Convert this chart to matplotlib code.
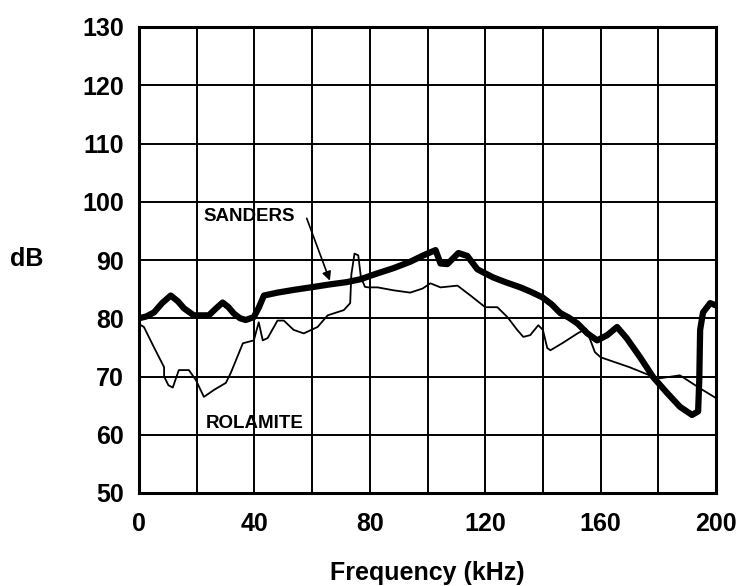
import matplotlib.pyplot as plt

# frequency (kHz) / level (dB)
sanders_f = [0, 2.5, 5.2, 8, 11, 13.5, 15.6, 19, 24.2, 26.5, 29, 31, 32.9, 35, 37, 39.8, 41.5,
             43.3, 48, 54, 59.5, 66, 72, 76.8, 82, 88.2, 94, 98.6, 102.8, 104.5, 106.9, 110.7,
             113.8, 117.3, 122.8, 127, 132.2, 136, 139.8, 143, 146, 149, 152, 155.4, 158.8,
             162.3, 165.7, 169, 173.7, 178.2, 183, 187.5, 191.7, 193.8, 194.2, 194.5, 195.5,
             198, 200]
sanders_db = [80, 80.3, 81, 82.6, 83.9, 82.9, 81.7, 80.5, 80.5, 81.6, 82.7, 81.9, 80.8, 80, 79.7,
              80.2, 81.8, 83.9, 84.4, 84.9, 85.3, 85.8, 86.2, 86.7, 87.6, 88.6, 89.7, 90.8, 91.7,
              89.4, 89.3, 91.2, 90.7, 88.4, 87, 86.2, 85.3, 84.5, 83.6, 82.4, 80.9, 80.1, 79.1,
              77.4, 76.2, 77.1, 78.5, 76.6, 73.3, 69.9, 67.2, 64.8, 63.4, 64, 69.4, 78, 81,
              82.6, 82.2]

rolamite_f = [0, 1.7, 5, 8.7, 8.7, 10.2, 11.7, 13.8, 17.3, 19.7, 22.5, 26, 30.1, 31.8, 36, 39.8,
              41.5, 42.9, 44.6, 48, 50.2, 53.6, 57.1, 61.9, 65.4, 71, 73.2, 73.6, 74.7, 76,
              76.9, 78.3, 79.5, 82.7, 88.2, 94, 98.3, 101, 104.5, 110.4, 114.9, 120, 124.2,
              127.7, 131.1, 133.2, 135.6, 138.4, 140, 141.5, 142.6, 147, 152, 155, 158, 160,
              170, 177, 180.6, 187.5, 190, 195, 200]
rolamite_db = [79, 78.5, 75.2, 71.6, 70, 68.5, 68.1, 71.1, 71.1, 69.4, 66.5, 67.7, 68.9, 70.6,
               75.7, 76.2, 79.3, 76.2, 76.6, 79.6, 79.6, 78, 77.4, 78.5, 80.5, 81.4, 82.6,
               87.5, 91.1, 90.8, 87.1, 85.4, 85.3, 85.3, 84.8, 84.4, 85.1, 86, 85.3, 85.6, 83.9,
               81.9, 81.9, 80.2, 78, 76.8, 77.1, 78.8, 78, 74.9, 74.5, 75.8, 77.4, 78.2, 74.2,
               73.3, 71.6, 70.2, 69.7, 70.2, 69.4, 67.8, 66.3]

x_ticks = list(range(0, 201, 20))
x_labels = [str(t) if t % 40 == 0 else "" for t in x_ticks]
y_ticks = list(range(50, 131, 10))

plt.rcParams['font.family'] = ['Liberation Sans', 'DejaVu Sans']
plt.rcParams['font.weight'] = 'bold'

fig = plt.figure(figsize=(7.44, 5.86), dpi=100)
ax = fig.add_axes([139 / 744, 1 - 493 / 586, (716 - 139) / 744, (493 - 27) / 586])

ax.plot(sanders_f, sanders_db, color='black', lw=4.5, solid_capstyle='round',
        solid_joinstyle='round', zorder=3)
ax.plot(rolamite_f, rolamite_db, color='black', lw=1.3, zorder=3)

ax.set_xlim(0, 200)
ax.set_ylim(50, 130)
ax.set_xticks(x_ticks)
ax.set_xticklabels(x_labels)
ax.set_yticks(y_ticks)
ax.tick_params(axis='x', length=0, labelsize=18, pad=14)
ax.tick_params(axis='y', length=0, labelsize=18, pad=11)
for lab in ax.get_xticklabels() + ax.get_yticklabels():
    lab.set_fontweight('bold')
ax.grid(True, color='black', lw=1.4)
for s in ax.spines.values():
    s.set_linewidth(2.2)

ax.set_xlabel("Frequency (kHz)", fontsize=18, fontweight='bold', labelpad=18)
fig.text(27 / 744, 1 - 259 / 586, "dB", fontsize=18, fontweight='bold', ha='center', va='center')

ax.text(22.5, 97.4, "SANDERS", fontsize=13.5, fontweight='bold', va='center', ha='left')
ax.annotate("", xy=(66.5, 86.0), xytext=(57.8, 97.6),
            arrowprops=dict(arrowstyle='-|>', color='black', lw=1.2, mutation_scale=13))
ax.text(23.3, 62.0, "ROLAMITE", fontsize=13.5, fontweight='bold', va='center', ha='left')

fig.savefig("out.png", dpi=100)
